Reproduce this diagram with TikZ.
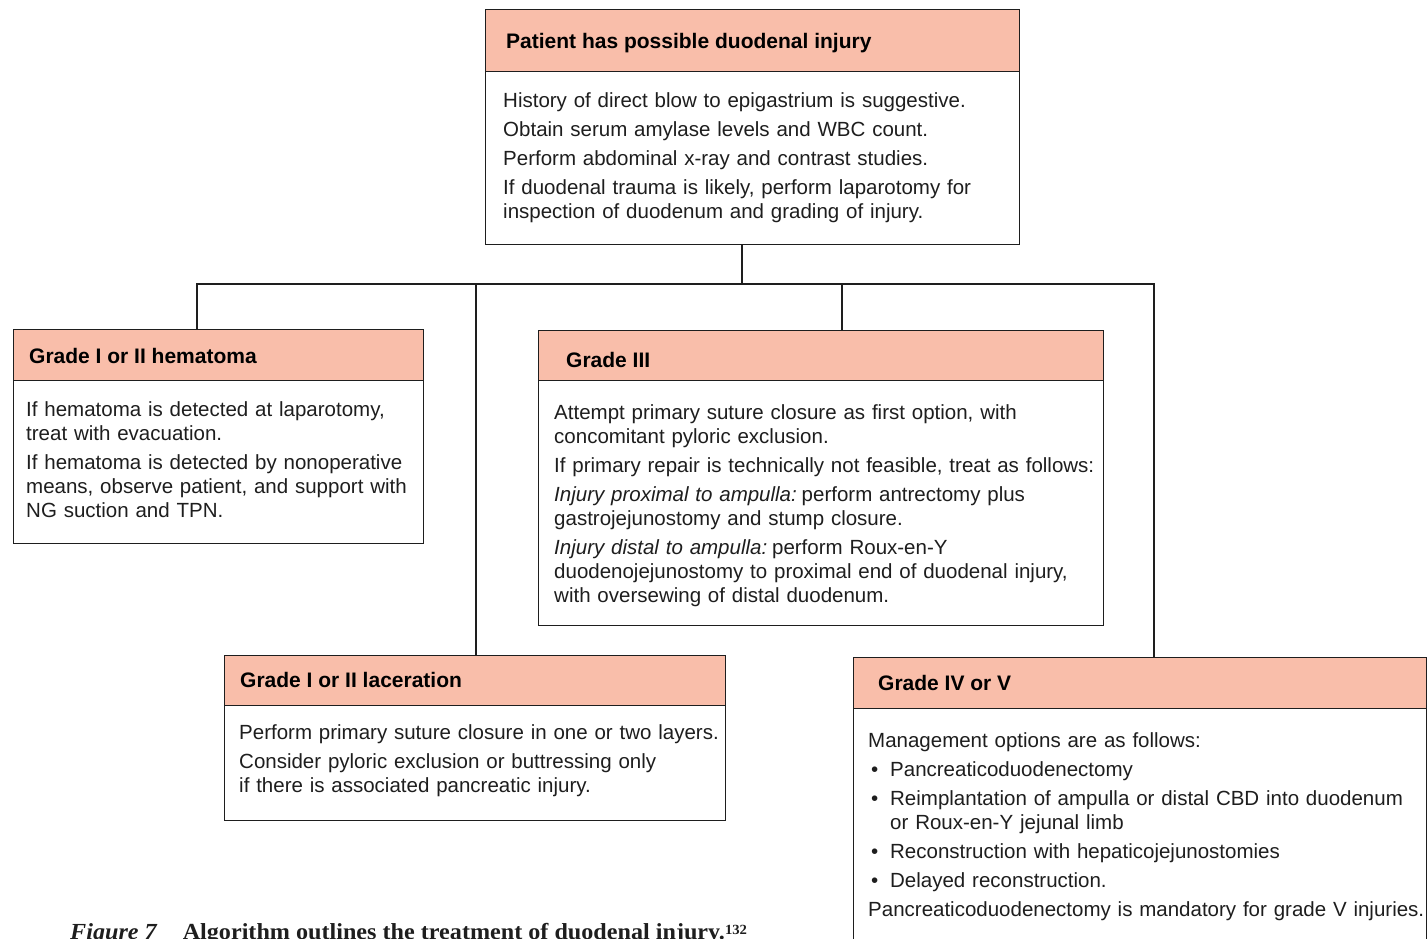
\documentclass[tikz,border=0pt]{standalone}
\usepackage{fontspec}
\setmainfont{Liberation Sans}
\newfontfamily\capfont{Liberation Serif}
\definecolor{hdrfill}{RGB}{249,190,170}
\definecolor{ink}{RGB}{30,30,30}

\begin{document}
\begin{tikzpicture}[x=1pt,y=-1pt,
  frame/.style={draw=ink, fill=white, line width=1.1pt, inner sep=0pt, anchor=north west},
  hdr/.style={draw=ink, fill=hdrfill, line width=1.1pt, inner sep=0pt, anchor=north west},
  title/.style={font=\fontsize{21}{24}\selectfont\bfseries, text=black, anchor=base west, inner sep=0pt},
  bodytext/.style={font=\fontsize{20.5}{24}\selectfont, text=ink, anchor=base west, inner sep=0pt,
                   text width=620pt, align=left},
  link/.style={draw=ink, line width=1.1pt}]
\useasboundingbox (0,0) rectangle (1428,938);

% ---- entry box ----
\node[frame, minimum width=534pt, minimum height=235pt] (top) at (485,9) {};
\node[hdr, minimum width=534pt, minimum height=62pt] (tophd) at (485,9) {};
\node[title] (toptitle) at (506,48) {Patient has possible duodenal injury};
\node[bodytext] (topbody) at (503,107) {History of direct blow to epigastrium is suggestive.\\[5pt]
Obtain serum amylase levels and WBC count.\\[5pt]
Perform abdominal x-ray and contrast studies.\\[5pt]
If duodenal trauma is likely, perform laparotomy for\\
inspection of duodenum and grading of injury.};

% ---- grade I/II hematoma ----
\node[frame, minimum width=410pt, minimum height=214pt] (hem) at (13,329) {};
\node[hdr, minimum width=410pt, minimum height=51pt] (hemhd) at (13,329) {};
\node[title] (hemtitle) at (29,363) {Grade I or II hematoma};
\node[bodytext] (hembody) at (26,416) {If hematoma is detected at laparotomy,\\
treat with evacuation.\\[5pt]
If hematoma is detected by nonoperative\\
means, observe patient, and support with\\
NG suction and TPN.};

% ---- grade III ----
\node[frame, minimum width=565pt, minimum height=295pt] (gthree) at (538,330) {};
\node[hdr, minimum width=565pt, minimum height=50pt] (gthreehd) at (538,330) {};
\node[title] (gthreetitle) at (566,367) {Grade III};
\node[bodytext] (gthreebody) at (554,419) {Attempt primary suture closure as first option, with\\
concomitant pyloric exclusion.\\[5pt]
If primary repair is technically not feasible, treat as follows:\\[5pt]
{\itshape Injury proximal to ampulla:}\kern-2pt\ perform antrectomy plus\\
gastrojejunostomy and stump closure.\\[5pt]
{\itshape Injury distal to ampulla:}\kern-2pt\ perform Roux-en-Y\\
duodenojejunostomy to proximal end of duodenal injury,\\
with oversewing of distal duodenum.};

% ---- grade I/II laceration ----
\node[frame, minimum width=501pt, minimum height=165pt] (lac) at (224,655) {};
\node[hdr, minimum width=501pt, minimum height=50pt] (lachd) at (224,655) {};
\node[title] (lactitle) at (240,687) {Grade I or II laceration};
\node[bodytext] (lacbody) at (239,739) {Perform primary suture closure in one or two layers.\\[5pt]
Consider pyloric exclusion or buttressing only\\
if there is associated pancreatic injury.};

% ---- grade IV/V (runs past the lower edge) ----
\node[frame, minimum width=573pt, minimum height=320pt] (gfour) at (853,657) {};
\node[hdr, minimum width=573pt, minimum height=51pt] (gfourhd) at (853,657) {};
\node[title] (gfourtitle) at (878,690) {Grade IV or V};
\node[bodytext] (gfourbody) at (868,747) {Management options are as follows:\\[5pt]
\hspace*{3pt}\makebox[19pt][l]{\textbullet}Pancreaticoduodenectomy\\[5pt]
\hspace*{3pt}\makebox[19pt][l]{\textbullet}Reimplantation of ampulla or distal CBD into duodenum\\
\hspace*{22pt}or Roux-en-Y jejunal limb\\[5pt]
\hspace*{3pt}\makebox[19pt][l]{\textbullet}Reconstruction with hepaticojejunostomies\\[5pt]
\hspace*{3pt}\makebox[19pt][l]{\textbullet}Delayed reconstruction.\\[5pt]
Pancreaticoduodenectomy is mandatory for grade V injuries.};

% ---- connectors ----
\coordinate (bus) at (742,284);
\coordinate (busL) at (197,284);
\coordinate (busR) at (1154,284);
\coordinate (tapLac) at (476,284);
\coordinate (tapIII) at (842,284);
\draw[link] (top.south -| bus) -- (bus);
\draw[link] (hemhd.north -| busL) -- (busL) -- (busR) -- (gfourhd.north -| busR);
\draw[link] (tapLac) -- (lachd.north -| tapLac);
\draw[link] (tapIII) -- (gthreehd.north -| tapIII);

% ---- caption ----
\node[font=\capfont\bfseries\fontsize{23}{26}\selectfont, text=ink, anchor=base west, inner sep=0pt]
  (caption) at (70,939.5) {\scalebox{1.05}[1]{\textit{Figure 7}\hspace{24pt}Algorithm outlines the treatment of duodenal injury.\raisebox{5pt}{\fontsize{14}{14}\selectfont 132}}};
\end{tikzpicture}
\end{document}
